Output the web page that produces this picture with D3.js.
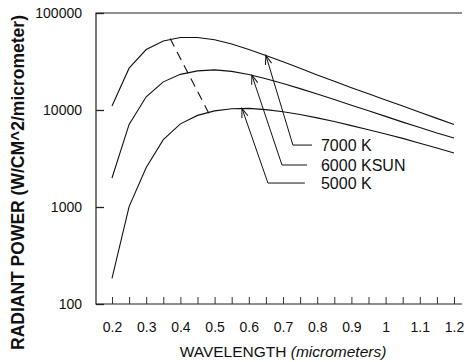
<!DOCTYPE html>
<html>
<head>
<meta charset="utf-8">
<script src="https://cdn.jsdelivr.net/npm/d3@7"></script>
<style>
  body { margin: 0; background: #fff; }
  svg { display: block; font-family: "Liberation Sans", Arial, sans-serif; }
</style>
</head>
<body>
<svg id="chart" width="467" height="362"></svg>
<script>
// wavelengths (micrometers)
const wavelengths = [0.2, 0.25, 0.3, 0.35, 0.4, 0.45, 0.5, 0.55, 0.6, 0.65, 0.7,
  0.75, 0.8, 0.85, 0.9, 0.95, 1.0, 1.05, 1.1, 1.15, 1.2];

// radiant power (W/CM^2/micrometer)
const k7000 = [11000, 27000, 42000, 51500, 56000, 56000, 53000, 48000, 42000, 36500, 31500,
  27000, 23000, 19800, 17000, 14700, 12700, 11000, 9500, 8200, 7100];
const k6000 = [1990, 7100, 13700, 19500, 23300, 25300, 25900, 25000, 23200, 21000, 18800,
  16600, 14600, 12800, 11200, 9800, 8600, 7500, 6600, 5800, 5150];
const k5000 = [184, 1010, 2550, 4950, 7200, 8800, 9800, 10300, 10400, 10100, 9600,
  9000, 8300, 7600, 6900, 6250, 5650, 5100, 4550, 4050, 3600];

// peak line (dashed)
const peakLine = [[0.37, 54500], [0.485, 9000]];

// leader arrows: tip on curve, elbow, end of horizontal, label
const labels = [
  { text: '7000 K', tip: [0.65, 36500], elbow: [0.729, 4350], end: [0.785, 4350] },
  { text: '6000 KSUN', tip: [0.609, 22900], elbow: [0.697, 2710], end: [0.770, 2710] },
  { text: '5000 K', tip: [0.58, 10400], elbow: [0.656, 1766], end: [0.764, 1766] },
];
const labelX = 0.811;

const xTicks = [0.2, 0.25, 0.3, 0.35, 0.4, 0.45, 0.5, 0.55, 0.6, 0.65, 0.7,
  0.75, 0.8, 0.85, 0.9, 0.95, 1.0, 1.05, 1.1, 1.15, 1.2];
const xTickLabels = ['0.2', '0.3', '0.4', '0.5', '0.6', '0.7', '0.8', '0.9', '1', '1.1', '1.2'];
const yTicks = [100, 1000, 10000, 100000];

const svg = d3.select('#chart');
const pl = 96;
const pr = 462;
const pt = 13;
const pb = 304;

const x = d3.scaleLinear().domain([0.2, 1.2]).range([112, 454]);
const y = d3.scaleLog().domain([100, 100000]).range([pb, pt]);

// frame
svg.append('path')
  .attr('d', `M${pr},${pt}H${pl}V${pb}H${pr}`)
  .attr('fill', 'none')
  .attr('stroke', '#222')
  .attr('stroke-width', 1.2);

const xAxis = svg.append('g')
  .attr('transform', `translate(0,${pb})`)
  .call(d3.axisBottom(x)
    .tickValues(xTicks)
    .tickSize(-7)
    .tickPadding(18)
    .tickFormat((d, i) => (i % 2 ? '' : xTickLabels[i / 2])));
xAxis.select('.domain').remove();
xAxis.selectAll('text').attr('font-size', 14).attr('fill', '#111');
xAxis.selectAll('line').attr('stroke', '#333');

const yAxis = svg.append('g')
  .attr('transform', `translate(${pl},0)`)
  .call(d3.axisLeft(y)
    .tickValues(yTicks)
    .tickSize(-8)
    .tickPadding(14)
    .tickFormat(d3.format('d')));
yAxis.select('.domain').remove();
yAxis.selectAll('text').attr('font-size', 14).attr('fill', '#111');
yAxis.selectAll('line').attr('stroke', '#222').attr('stroke-width', 1.3);

// curves
const line = d3.line()
  .x((d) => x(d[0]))
  .y((d) => y(d[1]));

[k7000, k6000, k5000].forEach((vals) => {
  svg.append('path')
    .datum(wavelengths.map((w, i) => [w, vals[i]]))
    .attr('d', line)
    .attr('fill', 'none')
    .attr('stroke', '#111')
    .attr('stroke-width', 1.1);
});

svg.append('path')
  .datum(peakLine)
  .attr('d', line)
  .attr('fill', 'none')
  .attr('stroke', '#111')
  .attr('stroke-width', 1.1)
  .attr('stroke-dasharray', '9,6');

// arrowheads
svg.append('defs').append('marker')
  .attr('id', 'head')
  .attr('viewBox', '-10 -5 12 10')
  .attr('markerWidth', 12)
  .attr('markerHeight', 10)
  .attr('markerUnits', 'userSpaceOnUse')
  .attr('orient', 'auto')
  .append('path')
  .attr('d', 'M-9,-3.2L0,0L-9,3.2')
  .attr('fill', 'none')
  .attr('stroke', '#111')
  .attr('stroke-width', 1);

labels.forEach((l) => {
  svg.append('path')
    .datum([l.end, l.elbow, l.tip])
    .attr('d', line)
    .attr('fill', 'none')
    .attr('stroke', '#111')
    .attr('stroke-width', 1)
    .attr('marker-end', 'url(#head)');
  svg.append('text')
    .attr('x', x(labelX))
    .attr('y', y(l.end[1]))
    .attr('dy', '0.36em')
    .attr('font-size', 16)
    .attr('fill', '#111')
    .text(l.text);
});

// axis titles
svg.append('text')
  .attr('x', (pl + 470) / 2)
  .attr('y', 357)
  .attr('text-anchor', 'middle')
  .attr('font-size', 15.5)
  .attr('fill', '#111')
  .call((t) => {
    t.append('tspan').text('WAVELENGTH ');
    t.append('tspan').attr('font-style', 'italic').text('(micrometers)');
  });

svg.append('text')
  .attr('transform', `translate(24,${(pt + 352) / 2}) rotate(-90)`)
  .attr('text-anchor', 'middle')
  .attr('font-size', 17.5)
  .attr('font-weight', 'bold')
  .attr('fill', '#111')
  .text('RADIANT POWER (W/CM^2/micrometer)');
</script>
</body>
</html>
